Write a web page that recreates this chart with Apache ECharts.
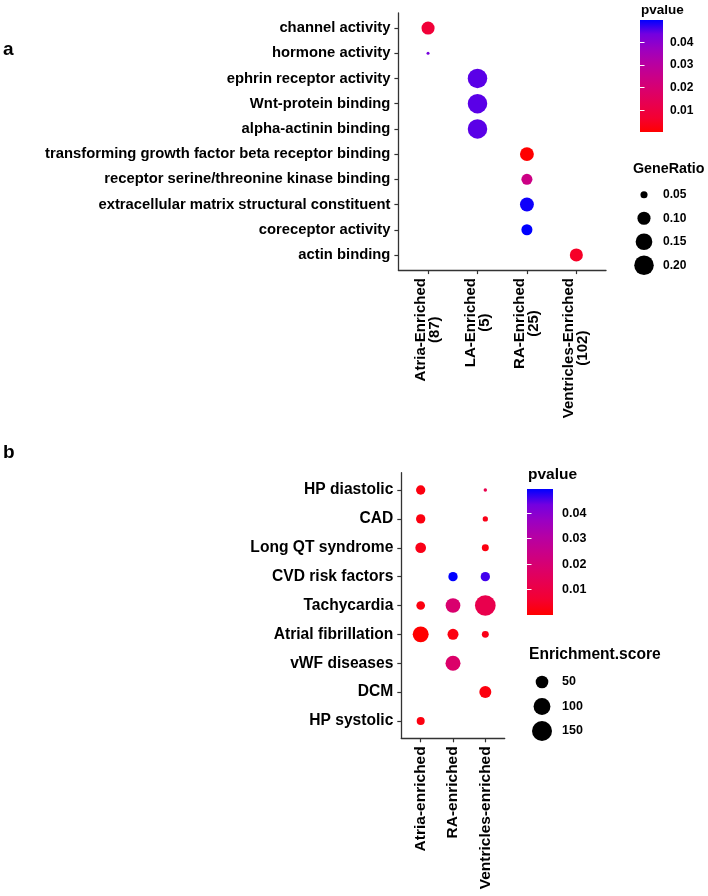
<!DOCTYPE html>
<html>
<head>
<meta charset="utf-8">
<script src="https://cdn.jsdelivr.net/npm/echarts@6/dist/echarts.min.js"></script>
<style>html,body{margin:0;padding:0;background:#fff;}#chart{width:708px;height:896px;}</style>
</head>
<body>
<div id="chart"></div>
<script>
// ---------------- Panel a data ----------------
const termsA = ['channel activity', 'hormone activity', 'ephrin receptor activity', 'Wnt-protein binding',
  'alpha-actinin binding', 'transforming growth factor beta receptor binding',
  'receptor serine/threonine kinase binding', 'extracellular matrix structural constituent',
  'coreceptor activity', 'actin binding'];
const groupsA = ['Atria-Enriched', 'LA-Enriched', 'RA-Enriched', 'Ventricles-Enriched'];
const groupCountsA = [87, 5, 25, 102];
const termGroupA = ['Atria-Enriched', 'Atria-Enriched', 'LA-Enriched', 'LA-Enriched', 'LA-Enriched',
  'RA-Enriched', 'RA-Enriched', 'RA-Enriched', 'RA-Enriched', 'Ventricles-Enriched'];
const geneRatioA = [0.10, 0.04, 0.20, 0.20, 0.20, 0.11, 0.078, 0.11, 0.078, 0.10];
const pvalueA = [0.008, 0.043, 0.045, 0.045, 0.045, 0.0005, 0.024, 0.049, 0.0498, 0.0054];
const geneRatioBreaks = [0.05, 0.10, 0.15, 0.20];
const pvalueTicksA = [0.01, 0.02, 0.03, 0.04];

// ---------------- Panel b data ----------------
const diseasesB = ['HP diastolic', 'CAD', 'Long QT syndrome', 'CVD risk factors', 'Tachycardia',
  'Atrial fibrillation', 'vWF diseases', 'DCM', 'HP systolic'];
const groupsB = ['Atria-enriched', 'RA-enriched', 'Ventricles-enriched'];
const pointGroupB = ['Atria-enriched', 'Ventricles-enriched', 'Atria-enriched', 'Ventricles-enriched',
  'Atria-enriched', 'Ventricles-enriched', 'RA-enriched', 'Ventricles-enriched', 'Atria-enriched',
  'RA-enriched', 'Ventricles-enriched', 'Atria-enriched', 'RA-enriched', 'Ventricles-enriched',
  'RA-enriched', 'Ventricles-enriched', 'Atria-enriched'];
const pointDiseaseB = ['HP diastolic', 'HP diastolic', 'CAD', 'CAD', 'Long QT syndrome', 'Long QT syndrome',
  'CVD risk factors', 'CVD risk factors', 'Tachycardia', 'Tachycardia', 'Tachycardia',
  'Atrial fibrillation', 'Atrial fibrillation', 'Atrial fibrillation', 'vWF diseases', 'DCM', 'HP systolic'];
const scoreB = [23, 5, 23, 6.7, 32.7, 11.5, 23, 23, 19.4, 72, 163, 88, 35, 11.5, 75.6, 43.6, 15.8];
const pvalueB = [0.002, 0.012, 0.002, 0.003, 0.003, 0.002, 0.0495, 0.046, 0.002, 0.019, 0.012,
  0.0001, 0.002, 0.003, 0.018, 0.002, 0.002];
const scoreBreaks = [50, 100, 150];
const pvalueTicksB = [0.01, 0.02, 0.03, 0.04];

// ---------------- styling ----------------
const FONT = "'Liberation Sans', Arial, Helvetica, sans-serif";
const gradStops = ['#FF0000', '#F40031', '#E8004F', '#DA006C', '#C90089', '#B500A5', '#9A00C3', '#7300E0', '#0000FF'];
const AXIS_COL = '#333333';

function sizeFn(v, vmin, vmax, dmin, dmax) {
  return dmin + (dmax - dmin) * Math.sqrt(Math.max(0, v - vmin) / (vmax - vmin));
}
const grMin = Math.min(...geneRatioA), grMax = Math.max(...geneRatioA);
const scMin = Math.min(...scoreB), scMax = Math.max(...scoreB);
const sizeA = v => sizeFn(v, grMin, grMax, 3, 19.5);
const sizeB = v => sizeFn(v, scMin, scMax, 3.5, 20.7);
const pMinA = Math.min(...pvalueA), pMaxA = Math.max(...pvalueA);
const pMinB = Math.min(...pvalueB), pMaxB = Math.max(...pvalueB);

const dataA = termsA.map((t, i) => [groupsA.indexOf(termGroupA[i]) + 1, i + 1, geneRatioA[i], pvalueA[i]]);
const dataB = scoreB.map((s, i) => [groupsB.indexOf(pointGroupB[i]) + 1, diseasesB.indexOf(pointDiseaseB[i]) + 1, s, pvalueB[i]]);

function idxRange(n) { return Array.from({length: n}, (_, i) => i + 1); }

function plotXAxis(gi, n, fmt, fs, rich) {
  return {
    gridIndex: gi, type: 'value', min: 1 - 0.6, max: n + 0.6, position: 'bottom',
    splitLine: {show: false},
    axisLine: {show: true, onZero: false, lineStyle: {color: AXIS_COL, width: 1.3}},
    axisTick: {show: true, customValues: idxRange(n), length: 4, lineStyle: {color: AXIS_COL, width: 1.2}},
    axisLabel: {show: true, customValues: idxRange(n), rotate: 90, margin: 8, formatter: fmt,
      color: '#000', fontFamily: FONT, fontWeight: 'bold', fontSize: fs, rich: rich}
  };
}
function plotYAxis(gi, cats, fs) {
  const n = cats.length;
  return {
    gridIndex: gi, type: 'value', min: 1 - 0.6, max: n + 0.6, inverse: true, position: 'left',
    splitLine: {show: false},
    axisLine: {show: true, onZero: false, lineStyle: {color: AXIS_COL, width: 1.3}},
    axisTick: {show: true, customValues: idxRange(n), length: 4, lineStyle: {color: AXIS_COL, width: 1.2}},
    axisLabel: {show: true, customValues: idxRange(n), margin: 8,
      formatter: v => cats[Math.round(v) - 1] || '',
      color: '#000', fontFamily: FONT, fontWeight: 'bold', fontSize: fs}
  };
}
function hiddenValueX(gi) {
  return {gridIndex: gi, type: 'value', min: 0, max: 1, show: false};
}
function barYAxis(gi, pmin, pmax, ticks, pos, showLabels, margin, fs) {
  return {
    gridIndex: gi, type: 'value', min: pmin, max: pmax, position: pos, z: 10,
    splitLine: {show: false}, axisLine: {show: false},
    axisTick: {show: true, inside: true, customValues: ticks, length: 4.5, lineStyle: {color: '#ffffff', width: 1}},
    axisLabel: {show: showLabels, customValues: ticks, margin: margin, color: '#000', fontFamily: FONT,
      fontWeight: 'bold', fontSize: fs, formatter: v => v.toFixed(2)}
  };
}
function legendCatY(gi, labels, margin, fs) {
  return {
    gridIndex: gi, type: 'category', data: labels, inverse: true, position: 'right',
    axisLine: {show: false}, axisTick: {show: false}, splitLine: {show: false},
    axisLabel: {margin: margin, color: '#000', fontFamily: FONT, fontWeight: 'bold', fontSize: fs}
  };
}
function colorbarSeries(xi, yi, pmin, pmax) {
  return {
    type: 'custom', xAxisIndex: xi, yAxisIndex: yi, silent: true, z: 1,
    data: [[0, pmin]],
    renderItem: (params, api) => {
      const p0 = api.coord([0, pmax]);
      const p1 = api.coord([1, pmin]);
      return {
        type: 'rect',
        shape: {x: p0[0], y: p0[1], width: p1[0] - p0[0], height: p1[1] - p0[1]},
        style: {fill: {type: 'linear', x: 0, y: 1, x2: 0, y2: 0,
          colorStops: gradStops.map((c, i) => ({offset: i / (gradStops.length - 1), color: c}))}}
      };
    }
  };
}
function legendText(text, x, y, size) {
  return {type: 'text', left: x, top: y - size * 0.6,
    style: {text: text, fill: '#000', font: 'bold ' + size + 'px ' + FONT}};
}

const chart = echarts.init(document.getElementById('chart'), null, {renderer: 'canvas'});
const option = {
  animation: false,
  backgroundColor: '#ffffff',
  grid: [
    {left: 398.4, top: 12.9, width: 207.6, height: 257.2},
    {left: 640, top: 20, width: 23, height: 112},
    {left: 634, top: 183, width: 20, height: 94},
    {left: 401.3, top: 472.7, width: 103.4, height: 265.6},
    {left: 527, top: 489, width: 26, height: 126},
    {left: 532, top: 669.75, width: 20, height: 73.5}
  ],
  xAxis: [
    plotXAxis(0, groupsA.length, v => {
      const i = Math.round(v) - 1;
      return '{c|' + groupsA[i] + '}\n{c|(' + groupCountsA[i] + ')}';
    }, 15, {c: {align: 'center', fontFamily: FONT, fontWeight: 'bold', fontSize: 15, lineHeight: 14, color: '#000'}}),
    hiddenValueX(1),
    {gridIndex: 2, type: 'category', data: [''], show: false},
    plotXAxis(3, groupsB.length, v => groupsB[Math.round(v) - 1] || '', 15.5),
    hiddenValueX(4),
    {gridIndex: 5, type: 'category', data: [''], show: false}
  ],
  yAxis: [
    plotYAxis(0, termsA, 14.8),
    barYAxis(1, pMinA, pMaxA, pvalueTicksA, 'right', true, 7, 12),
    barYAxis(1, pMinA, pMaxA, pvalueTicksA, 'left', false, 7, 12),
    legendCatY(2, geneRatioBreaks.map(v => v.toFixed(2)), 9, 12),
    plotYAxis(3, diseasesB, 15.6),
    barYAxis(4, pMinB, pMaxB, pvalueTicksB, 'right', true, 9, 12.5),
    barYAxis(4, pMinB, pMaxB, pvalueTicksB, 'left', false, 9, 12.5),
    legendCatY(5, scoreBreaks.map(String), 10, 12.5)
  ],
  visualMap: [
    {type: 'continuous', show: false, seriesIndex: 0, dimension: 3, min: pMinA, max: pMaxA, inRange: {color: gradStops}},
    {type: 'continuous', show: false, seriesIndex: 3, dimension: 3, min: pMinB, max: pMaxB, inRange: {color: gradStops}}
  ],
  series: [
    {type: 'scatter', xAxisIndex: 0, yAxisIndex: 0, data: dataA, symbolSize: v => sizeA(v[2]),
      itemStyle: {opacity: 1}, encode: {x: 0, y: 1}},
    colorbarSeries(1, 1, pMinA, pMaxA),
    {type: 'scatter', xAxisIndex: 2, yAxisIndex: 3, itemStyle: {color: '#000', opacity: 1},
      data: geneRatioBreaks.map((v, i) => ({value: ['', i], symbolSize: sizeA(v)}))},
    {type: 'scatter', xAxisIndex: 3, yAxisIndex: 4, data: dataB, symbolSize: v => sizeB(v[2]),
      itemStyle: {opacity: 1}, encode: {x: 0, y: 1}},
    colorbarSeries(4, 5, pMinB, pMaxB),
    {type: 'scatter', xAxisIndex: 5, yAxisIndex: 7, itemStyle: {color: '#000', opacity: 1},
      data: scoreBreaks.map((v, i) => ({value: ['', i], symbolSize: sizeB(v)}))}
  ],
  graphic: [
    legendText('a', 3, 52, 19),
    legendText('b', 3, 455, 19),
    legendText('pvalue', 641, 11, 13.5),
    legendText('GeneRatio', 633, 171, 14.3),
    legendText('pvalue', 528, 476, 15.5),
    legendText('Enrichment.score', 529, 656, 15.6)
  ]
};
chart.setOption(option);
</script>
</body>
</html>
